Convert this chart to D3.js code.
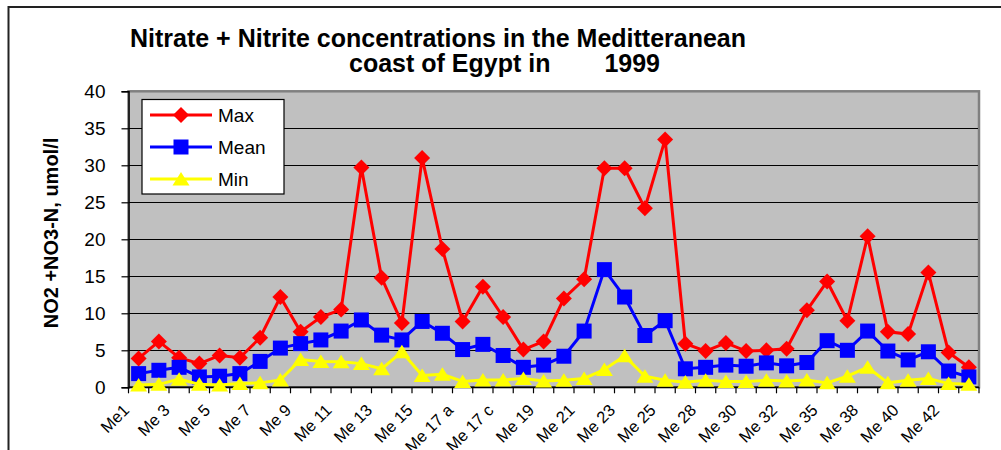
<!DOCTYPE html>
<html>
<head>
<meta charset="utf-8">
<script src="https://cdn.jsdelivr.net/npm/d3@7"></script>
<style>
  body { margin: 0; background: #fff; }
  text { font-family: "Liberation Sans", Arial, sans-serif; }
</style>
</head>
<body>
<script>
// station names along the coast
var categories = ["Me1","Me 2","Me 3","Me 4","Me 5","Me 6","Me 7","Me 8","Me 9","Me 10",
  "Me 11","Me 12","Me 13","Me 14","Me 15","Me 16","Me 17 a","Me 17 b","Me 17 c","Me 18",
  "Me 19","Me 20","Me 21","Me 22","Me 23","Me 24","Me 25","Me 26","Me 28","Me 29",
  "Me 30","Me 31","Me 32","Me 33","Me 35","Me 36","Me 38","Me 39","Me 40","Me 41",
  "Me 42","Me 43"];

var maxVals = [3.9,6.2,4.0,3.2,4.3,4.0,6.7,12.2,7.5,9.5,10.5,29.7,14.8,8.7,31.0,18.7,8.9,13.6,9.5,5.1,
  6.2,12.0,14.6,29.6,29.6,24.2,33.5,5.9,4.9,6.0,4.9,5.0,5.2,10.4,14.3,9.0,20.4,7.5,7.2,15.5,4.7,2.7];
var meanVals = [1.85,2.3,2.7,1.4,1.5,1.85,3.5,5.3,5.9,6.4,7.6,9.1,7.05,6.4,8.9,7.3,5.1,5.8,4.3,2.7,
  3.0,4.2,7.6,15.9,12.2,7.0,9.0,2.5,2.7,3.0,2.85,3.3,2.9,3.35,6.3,5.0,7.6,4.9,3.7,4.8,2.2,1.4];
var minVals = [0.3,0.4,1.1,0.4,0.3,0.5,0.6,1.0,3.75,3.5,3.45,3.2,2.5,4.8,1.6,1.75,0.8,1.0,1.0,1.2,
  0.85,0.95,1.2,2.4,4.25,1.5,0.95,0.7,0.95,0.8,0.8,0.95,0.85,1.0,0.6,1.5,2.7,0.6,0.95,1.2,0.5,0.4];

var yTicks = [0,5,10,15,20,25,30,35,40];
var seriesNames = ["Max","Mean","Min"];
var seriesColors = ["#ff0000","#0000ff","#ffff00"];

var width = 1001, height = 450;
var plotLeft = 128.5, plotRight = 979, plotTop = 91.3, plotBottom = 387.3;

var svg = d3.select("body").append("svg")
  .attr("width", width).attr("height", height);

// outer chart border (runs off right/bottom)
svg.append("rect")
  .attr("x", 8.5).attr("y", 7).attr("width", 1100).attr("height", 600)
  .attr("fill", "#fff").attr("stroke", "#222").attr("stroke-width", 2);

var x = d3.scaleBand().domain(categories).range([plotLeft, plotRight]).padding(0);
var y = d3.scaleLinear().domain([0, 40]).range([plotBottom, plotTop]);
var cx = function(d, i) { return x(categories[i]) + x.bandwidth() / 2; };

// plot area
svg.append("rect")
  .attr("x", plotLeft).attr("y", plotTop)
  .attr("width", plotRight - plotLeft).attr("height", plotBottom - plotTop)
  .attr("fill", "#c0c0c0").attr("stroke", "#808080").attr("stroke-width", 2.5);

// gridlines
svg.append("g")
  .selectAll("line")
  .data(yTicks.slice(1, -1))
  .enter().append("line")
  .attr("x1", plotLeft).attr("x2", plotRight - 1)
  .attr("y1", function(d) { return Math.round(y(d)) + 0.5; })
  .attr("y2", function(d) { return Math.round(y(d)) + 0.5; })
  .attr("stroke", "#000").attr("stroke-width", 1);

// y axis
var yAxis = svg.append("g")
  .attr("transform", "translate(" + plotLeft + ",0)")
  .call(d3.axisLeft(y).tickValues(yTicks).tickSize(7).tickPadding(16));
yAxis.select(".domain").attr("stroke", "#000").attr("stroke-width", 1.5);
yAxis.selectAll(".tick line").attr("stroke", "#000").attr("stroke-width", 1.2);
yAxis.selectAll(".tick text").attr("font-size", 19)
  .attr("font-family", "Liberation Sans, Arial, sans-serif").attr("fill", "#000");

// x axis line and ticks at category boundaries
svg.append("line")
  .attr("x1", plotLeft).attr("x2", plotRight).attr("y1", plotBottom).attr("y2", plotBottom)
  .attr("stroke", "#000").attr("stroke-width", 1.5);
var bounds = categories.map(function(c) { return x(c); }).concat([plotRight]);
svg.append("g").selectAll("line")
  .data(bounds).enter().append("line")
  .attr("x1", function(d) { return d; }).attr("x2", function(d) { return d; })
  .attr("y1", plotBottom).attr("y2", plotBottom + 6)
  .attr("stroke", "#000").attr("stroke-width", 1.2);

// category labels, every second one
svg.append("g").selectAll("text")
  .data(categories.filter(function(c, i) { return i % 2 === 0; }))
  .enter().append("text")
  .attr("transform", function(c) {
    var px = x(c) + x.bandwidth() / 2 - 8.5;
    return "translate(" + px + "," + (plotBottom + 24) + ") rotate(-45)";
  })
  .attr("text-anchor", "end")
  .attr("font-size", 16.5)
  .text(function(c) { return c; });

// series
var allSeries = [maxVals, meanVals, minVals];
var line = d3.line()
  .x(function(d, i) { return cx(d, i); })
  .y(function(d) { return y(d); });

var symbols = [
  function(g) { return g.append("path").attr("d", "M0,-8L8,0L0,8L-8,0Z"); },
  function(g) { return g.append("rect").attr("x", -7.5).attr("y", -7.5).attr("width", 15).attr("height", 15); },
  function(g) { return g.append("path").attr("d", "M0,-7L8.5,6.5L-8.5,6.5Z"); }
];

allSeries.forEach(function(vals, s) {
  var g = svg.append("g");
  g.append("path")
    .attr("d", line(vals))
    .attr("fill", "none")
    .attr("stroke", seriesColors[s])
    .attr("stroke-width", 3);
  vals.forEach(function(v, i) {
    var m = g.append("g").attr("transform", "translate(" + cx(v, i) + "," + y(v) + ")");
    symbols[s](m).attr("fill", seriesColors[s]);
  });
});

// legend
var lg = svg.append("g");
lg.append("rect")
  .attr("x", 142).attr("y", 99.5).attr("width", 142).attr("height", 94.5)
  .attr("fill", "#fff").attr("stroke", "#000").attr("stroke-width", 1.2);
seriesNames.forEach(function(name, s) {
  var ly = 115 + s * 32;
  lg.append("line")
    .attr("x1", 150).attr("x2", 212).attr("y1", ly).attr("y2", ly)
    .attr("stroke", seriesColors[s]).attr("stroke-width", 3);
  var m = lg.append("g").attr("transform", "translate(181," + ly + ")");
  symbols[s](m).attr("fill", seriesColors[s]);
  lg.append("text")
    .attr("x", 218).attr("y", ly + 7)
    .attr("font-size", 19)
    .text(name);
});

// title
svg.append("text")
  .attr("x", 438).attr("y", 46.5)
  .attr("text-anchor", "middle")
  .attr("font-size", 25).attr("font-weight", "bold")
  .text("Nitrate + Nitrite concentrations in the Meditteranean");
svg.append("text")
  .attr("x", 349).attr("y", 72)
  .attr("font-size", 25).attr("font-weight", "bold")
  .text("coast of Egypt in");
svg.append("text")
  .attr("x", 660).attr("y", 72)
  .attr("text-anchor", "end")
  .attr("font-size", 25).attr("font-weight", "bold")
  .text("1999");

// y axis title
svg.append("text")
  .attr("transform", "translate(58,233) rotate(-90)")
  .attr("text-anchor", "middle")
  .attr("font-size", 20).attr("font-weight", "bold")
  .text("NO2 +NO3-N, umol/l");
</script>
</body>
</html>
